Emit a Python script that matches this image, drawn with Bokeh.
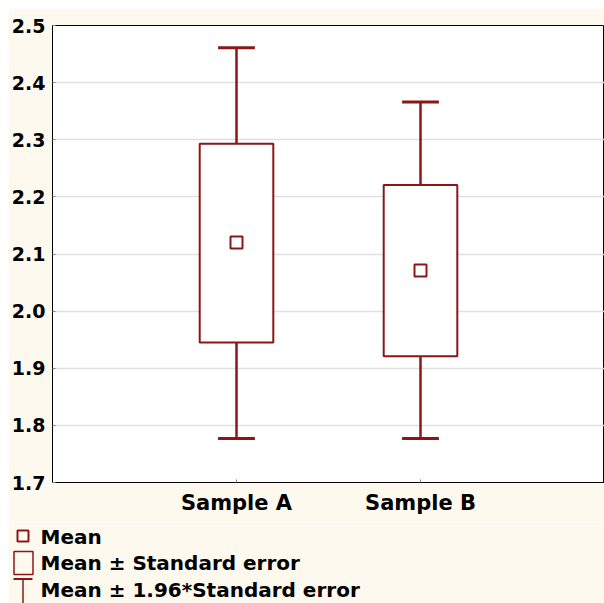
from bokeh.plotting import figure
from bokeh.models import Range1d, FixedTicker
from bokeh.core.properties import value
from bokeh.embed import file_html
from bokeh.resources import INLINE

# ---- data ----
categories = ["Sample A", "Sample B"]
means = [2.120, 2.071]
se_low = [1.945, 1.921]
se_high = [2.293, 2.221]
ci_low = [1.777, 1.777]
ci_high = [2.461, 2.366]
y_ticks = [1.7, 1.8, 1.9, 2.0, 2.1, 2.2, 2.3, 2.4, 2.5]
y_tick_labels = ["1.7", "1.8", "1.9", "2.0", "2.1", "2.2", "2.3", "2.4", "2.5"]
legend_labels = ["Mean", "Mean \u00b1 Standard error", "Mean \u00b1 1.96*Standard error"]

RED = "#8C1616"
CREAM = "#FEF9EE"
FONT = "DejaVu Sans"

xs = [i + 1 for i in range(len(categories))]
box_half = 0.2
cap_half = 0.1

p = figure(width=596, height=518, x_range=Range1d(0, len(categories) + 1),
           y_range=Range1d(y_ticks[0], y_ticks[-1]),
           output_backend="svg", toolbar_location=None,
           background_fill_color="white", border_fill_color=CREAM)
p.margin = (8, 0, 0, 8)
p.min_border = 0
p.min_border_left = 43
p.min_border_right = 0
p.min_border_top = 17
p.min_border_bottom = 44
p.outline_line_color = "black"
p.outline_line_width = 1

# boxes (mean ± SE)
p.quad(left=[x - box_half for x in xs], right=[x + box_half for x in xs],
       bottom=se_low, top=se_high, fill_color="white", line_color=RED, line_width=2)
# whiskers (mean ± 1.96*SE)
p.segment(x0=xs, y0=se_high, x1=xs, y1=ci_high, line_color=RED, line_width=2.5)
p.segment(x0=xs, y0=se_low, x1=xs, y1=ci_low, line_color=RED, line_width=2.5)
p.segment(x0=[x - cap_half for x in xs], y0=ci_high, x1=[x + cap_half for x in xs], y1=ci_high,
          line_color=RED, line_width=3)
p.segment(x0=[x - cap_half for x in xs], y0=ci_low, x1=[x + cap_half for x in xs], y1=ci_low,
          line_color=RED, line_width=3)
# means
p.scatter(x=xs, y=means, marker="square", size=12, fill_color="white", line_color=RED, line_width=2)

p.xgrid.visible = False
p.ygrid.grid_line_color = "#e0e0e0"
p.ygrid.grid_line_width = 1.5

p.yaxis.ticker = FixedTicker(ticks=y_ticks)
p.yaxis.major_label_overrides = {t: l for t, l in zip(y_ticks, y_tick_labels)}
p.xaxis.ticker = FixedTicker(ticks=xs)
p.xaxis.major_label_overrides = {x: c for x, c in zip(xs, categories)}

for ax in (p.xaxis[0], p.yaxis[0]):
    ax.axis_line_color = "black"
    ax.major_tick_in = 3
    ax.major_tick_out = 0
    ax.major_tick_line_color = "#888888"
    ax.minor_tick_line_color = None
    ax.major_label_text_font = FONT
    ax.major_label_text_font_style = "bold"
    ax.major_label_text_color = "black"
p.yaxis.major_label_text_font_size = "19px"
p.yaxis.major_label_standoff = 7
p.xaxis.major_label_text_font_size = "21px"
p.xaxis.major_label_standoff = 8

# ---- legend panel ----
LW, LH = 596, 77
q = figure(width=LW, height=LH, x_range=Range1d(0, LW), y_range=Range1d(LH, 0),
           output_backend="svg", toolbar_location=None,
           x_axis_type=None, y_axis_type=None,
           background_fill_color=CREAM, border_fill_color=CREAM)
q.margin = (0, 0, 0, 8)
q.min_border = 0
q.min_border_left = 0
q.min_border_right = 0
q.min_border_top = 0
q.min_border_bottom = 0
q.outline_line_color = None
q.xgrid.visible = False
q.ygrid.visible = False

q.text(x=[32] * 3, y=[10, 36.5, 63], text=legend_labels,
       text_font=value(FONT), text_font_style="bold", text_font_size="20px",
       text_baseline="alphabetic", text_color="black")
q.scatter(x=[14.5], y=[9.5], marker="square", size=11, fill_color=None, line_color=RED, line_width=2)
q.quad(left=[5.5], right=[24.5], top=[25], bottom=[48], fill_color=None, line_color=RED, line_width=1.5)
q.segment(x0=[5], y0=[52.5], x1=[24], y1=[52.5], line_color=RED, line_width=2)
q.segment(x0=[14.5], y0=[52.5], x1=[14.5], y1=[LH + 2], line_color=RED, line_width=1.5)

open("out.html", "w").write(file_html([p, q], INLINE))
